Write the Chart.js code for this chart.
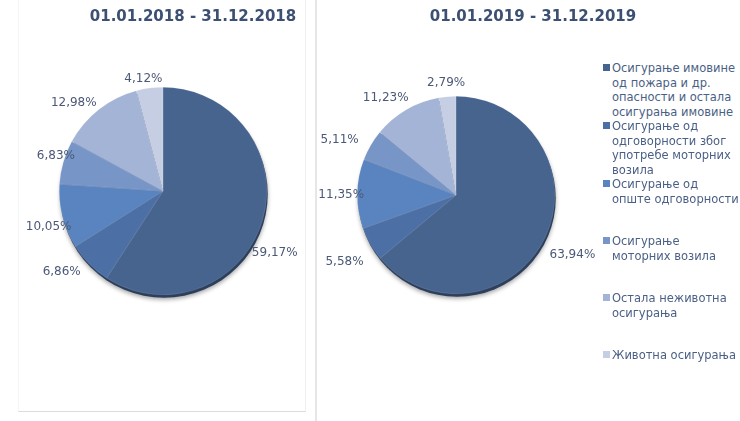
<!DOCTYPE html>
<html>
<head>
<meta charset="utf-8">
<script src="https://cdn.jsdelivr.net/npm/chart.js@4/dist/chart.umd.min.js"></script>
<style>
  html, body { margin: 0; padding: 0; background: #fff; }
  body { width: 740px; height: 421px; position: relative; overflow: hidden; font-family: "DejaVu Sans", Verdana, sans-serif; }
  .panel { position: absolute; top: 0; height: 421px; }
  #panelA { left: 0; width: 315px; }
  #panelB { left: 318px; width: 290px; }
  .frame { position: absolute; left: 18px; top: 0; width: 286px; height: 411px;
           border-left: 1px solid #f5f5f5; border-right: 1px solid #f0f0f0; border-bottom: 1px solid #dcdcdc; }
  .divider { position: absolute; left: 315px; top: 0; width: 2px; height: 421px; background: #e6e6e6; }
  .title { position: absolute; top: 6px; width: 300px; text-align: center; font-weight: bold;
           font-size: 15px; line-height: 20px; color: #3c5074; }
  #legend { position: absolute; left: 612px; top: 0; width: 128px; }
  .item { position: absolute; left: 0; font-size: 11.5px; line-height: 14.5px; color: #4a5f85; white-space: nowrap; }
  .item i { position: absolute; left: -9px; top: 3px; width: 7px; height: 7px; }
</style>
</head>
<body>
<div class="frame"></div>
<div class="divider"></div>
<div class="panel" id="panelA"><canvas id="pieA"></canvas></div>
<div class="panel" id="panelB"><canvas id="pieB"></canvas></div>
<div class="title" id="titleA" style="left:43px"></div>
<div class="title" id="titleB" style="left:383px"></div>
<div id="legend"></div>
<script>
// Structure of the non-life / life portfolio, shares in %
const categories = [
  ['Осигурање имовине', 'од пожара и др.', 'опасности и остала', 'осигурања имовине'],
  ['Осигурање од', 'одговорности због', 'употребе моторних', 'возила'],
  ['Осигурање од', 'опште одговорности'],
  ['Осигурање', 'моторних возила'],
  ['Остала неживотна', 'осигурања'],
  ['Животна осигурања']
];
const share2018 = [59.17, 6.86, 10.05, 6.83, 12.98, 4.12];
const share2019 = [63.94, 5.58, 11.35, 5.11, 11.23, 2.79];
const periods = ['01.01.2018 - 31.12.2018', '01.01.2019 - 31.12.2019'];

const sliceColors = ['#47648f', '#4c70a6', '#5a84bf', '#7795c7', '#a4b4d6', '#c6cee3'];
const labelColor = '#4b5877';

// Percent labels placed just outside each slice; [angle shift in degrees, gap beyond the rim in px]
const pieLabels = {
  id: 'pieLabels',
  afterDatasetsDraw(chart, args, opts) {
    const ctx = chart.ctx;
    const meta = chart.getDatasetMeta(0);
    const values = chart.data.datasets[0].data;
    ctx.save();
    ctx.font = '12px "DejaVu Sans", Verdana, sans-serif';
    ctx.fillStyle = labelColor;
    ctx.textAlign = 'center';
    ctx.textBaseline = 'middle';
    meta.data.forEach((arc, i) => {
      const p = arc.getProps(['x', 'y', 'startAngle', 'endAngle', 'outerRadius'], true);
      const tweak = opts.tweaks[i] || [0, 20];
      const a = (p.startAngle + p.endAngle) / 2 + tweak[0] * Math.PI / 180;
      const r = p.outerRadius + tweak[1];
      const text = values[i].toFixed(2).replace('.', ',') + '%';
      ctx.fillText(text, p.x + Math.cos(a) * r, p.y + Math.sin(a) * r);
    });
    ctx.restore();
  }
};

// Soft dark rim under the pie for the raised look
const pieShadow = {
  id: 'pieShadow',
  beforeDatasetsDraw(chart) {
    const arc = chart.getDatasetMeta(0).data[0];
    if (!arc) return;
    const p = arc.getProps(['x', 'y', 'outerRadius'], true);
    const ctx = chart.ctx;
    ctx.save();
    ctx.shadowColor = 'rgba(0,0,0,0.35)';
    ctx.shadowBlur = 4;
    ctx.shadowOffsetY = 2;
    ctx.fillStyle = '#2c3f5c';
    ctx.beginPath();
    ctx.arc(p.x + 1, p.y + 3, p.outerRadius, 0, Math.PI * 2);
    ctx.fill();
    ctx.restore();
  }
};

function makePie(canvasId, values, padding, tweaks) {
  return new Chart(document.getElementById(canvasId), {
    type: 'pie',
    data: {
      labels: categories.map(c => c.join(' ')),
      datasets: [{
        data: values,
        backgroundColor: sliceColors,
        borderColor: 'rgba(255,255,255,0.25)',
        borderWidth: 0.5,
        hoverOffset: 0
      }]
    },
    options: {
      responsive: true,
      maintainAspectRatio: false,
      animation: false,
      layout: { padding: padding },
      plugins: {
        legend: { display: false },
        tooltip: { enabled: false },
        pieLabels: { tweaks: tweaks }
      }
    },
    plugins: [pieShadow, pieLabels]
  });
}

makePie('pieA', share2018, { left: 59, right: 48, top: 87, bottom: 126 },
  [[12.5, 24], [6, 26], [-3, 16], [2, 9], [-7, 22], [-2.5, 10]]);
makePie('pieB', share2019, { left: 39, right: 53, top: 96, bottom: 127 },
  [[2, 32], [-1, 31], [-0.7, 16], [-5, 30], [-5.7, 21], [0, 14]]);

document.getElementById('titleA').textContent = periods[0];
document.getElementById('titleB').textContent = periods[1];

// Legend: each entry takes at least a fixed slot, taller entries push the next one down
const legendBox = document.getElementById('legend');
let legendY = 61;
categories.forEach((lines, i) => {
  const item = document.createElement('div');
  item.className = 'item';
  item.style.top = legendY + 'px';
  const mark = document.createElement('i');
  mark.style.background = sliceColors[i];
  item.appendChild(mark);
  lines.forEach((line, k) => {
    if (k) item.appendChild(document.createElement('br'));
    item.appendChild(document.createTextNode(line));
  });
  legendBox.appendChild(item);
  legendY += Math.max(lines.length * 14.5, 57);
});
</script>
</body>
</html>
